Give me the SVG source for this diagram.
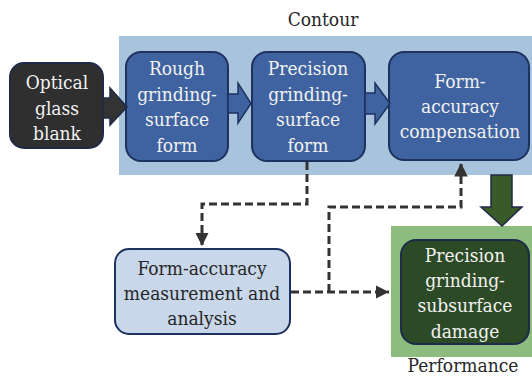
<svg xmlns="http://www.w3.org/2000/svg" width="532" height="382" viewBox="0 0 532 382" font-family="'DejaVu Serif Condensed', 'DejaVu Serif', serif" font-size="19">
<defs>
<style>
text{text-anchor:middle;font-stretch:condensed}
.wt{fill:#f2f2f2}
.dt{fill:#262626}
.blue{fill:#3f63a0;stroke:#1e3260;stroke-width:2}
.dash{fill:none;stroke:#333;stroke-width:3;stroke-dasharray:8 4}
</style>
<marker id="ah" viewBox="0 0 10 10" refX="10" refY="5" markerWidth="4.5" markerHeight="5" orient="auto" markerUnits="strokeWidth">
<path d="M0,0 L10,5 L0,10 z" fill="#333"/>
</marker>
</defs>
<rect x="0" y="0" width="532" height="382" fill="#fff"/>
<g id="contour-region">
<rect x="119" y="36" width="413" height="139" fill="#a8c3dc"/>
<text class="dt" x="323" y="26">Contour</text>
</g>
<g id="performance-region">
<rect x="391" y="226" width="141" height="131" fill="#8dbd7e"/>
<text class="dt" x="463" y="372">Performance</text>
</g>
<g id="blank">
<rect x="10" y="63" width="93" height="85" rx="14" fill="#2f2f2f" stroke="#1e2a48" stroke-width="2"/>
<text class="wt" x="57" y="89">Optical</text>
<text class="wt" x="57" y="115">glass</text>
<text class="wt" x="57" y="140">blank</text>
</g>
<g id="rough">
<rect class="blue" x="126" y="52" width="102" height="109" rx="15"/>
<text class="wt" x="177" y="75">Rough</text>
<text class="wt" x="177" y="101">grinding-</text>
<text class="wt" x="177" y="126">surface</text>
<text class="wt" x="177" y="152">form</text>
</g>
<g id="precision">
<rect class="blue" x="252" y="52" width="113" height="109" rx="15"/>
<text class="wt" x="308" y="75">Precision</text>
<text class="wt" x="308" y="101">grinding-</text>
<text class="wt" x="308" y="126">surface</text>
<text class="wt" x="308" y="152">form</text>
</g>
<g id="compensation">
<rect class="blue" x="389" y="52" width="140" height="108" rx="15"/>
<text class="wt" x="460" y="88">Form-</text>
<text class="wt" x="460" y="113">accuracy</text>
<text class="wt" x="460" y="138">compensation</text>
</g>
<g id="measurement">
<rect x="115" y="249" width="175" height="85" rx="14" fill="#c9d7ea" stroke="#1e3260" stroke-width="2"/>
<text class="dt" x="202" y="275">Form-accuracy</text>
<text class="dt" x="202" y="300">measurement and</text>
<text class="dt" x="202" y="325">analysis</text>
</g>
<g id="damage">
<rect x="401" y="240" width="128" height="104" rx="15" fill="#2d4a27" stroke="#1e2a48" stroke-width="2"/>
<text class="wt" x="465" y="262">Precision</text>
<text class="wt" x="465" y="287">grinding-</text>
<text class="wt" x="465" y="312">subsurface</text>
<text class="wt" x="465" y="338">damage</text>
</g>
<g id="connectors">
<path d="M103,98 L110,98 L110,88 L127,107 L110,125 L110,118 L103,118 z" fill="#333" stroke="#1e2a48" stroke-width="1.5"/>
<path d="M228,94 L238,94 L238,83 L251,103.5 L238,123 L238,113 L228,113 z" fill="#3f63a0" stroke="#1e3260" stroke-width="1.5"/>
<path d="M365,93 L375,93 L375,83 L390,103.5 L375,124 L375,114 L365,114 z" fill="#3f63a0" stroke="#1e3260" stroke-width="1.5"/>
<path d="M491,175 L512,175 L512,207 L522,207 L502,226 L481,207 L491,207 z" fill="#3a5a2a" stroke="#1e2a48" stroke-width="1.5"/>
<path class="dash" d="M307,162 L307,204 L202,204 L202,246" marker-end="url(#ah)"/>
<path class="dash" d="M329,292 L329,207 L461,207 L461,163" marker-end="url(#ah)"/>
<path class="dash" d="M291,292 L389,292" marker-end="url(#ah)"/>
</g>
</svg>
